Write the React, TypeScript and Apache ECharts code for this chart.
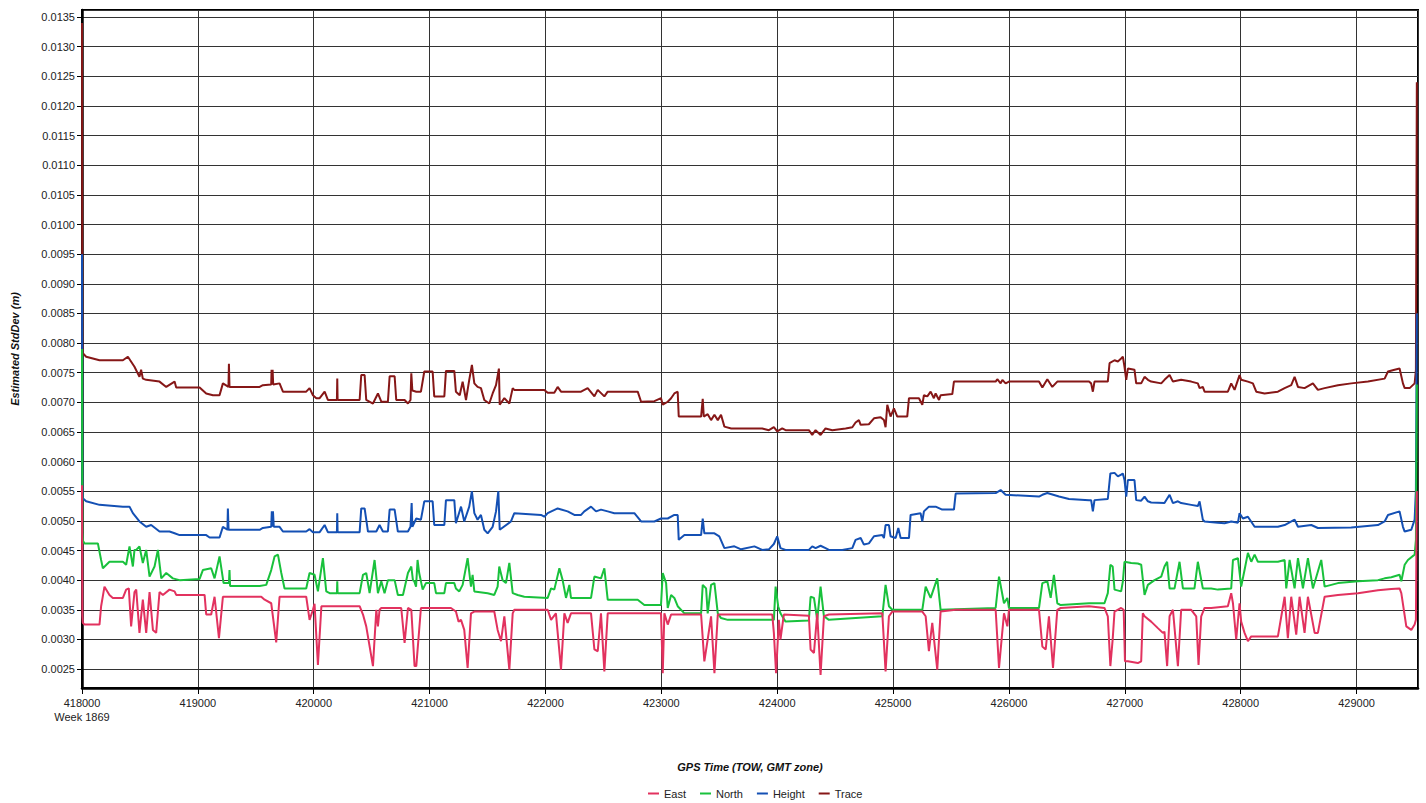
import React, { useEffect, useRef } from "react";
import * as echarts from "echarts";

const SERIES_NAMES = ["East", "North", "Height", "Trace"];
const SERIES_COLORS: Record<string, string> = {
  East: "#e2325f",
  North: "#19c13c",
  Height: "#1450b4",
  Trace: "#861717",
};
const X_TITLE = "GPS Time (TOW, GMT zone)";
const Y_TITLE = "Estimated StdDev (m)";
const WEEK_LABEL = "Week 1869";
const X_MIN = 418000;
const X_MAX = 429530;
const X_STEP = 1000;
const Y_MIN = 0.00218;
const Y_MAX = 0.01362;
const Y_STEP = 0.0005;

type P = [number, number];

const traceData: P[] = [
  [418000, 0.0134], [418003, 0.008], [418007, 0.00783], [418036, 0.00777], [418151, 0.00771], [418353, 0.00771],
  [418396, 0.00777], [418453, 0.0076], [418496, 0.00743], [418510, 0.00755], [418525, 0.0074], [418554, 0.00738],
  [418669, 0.00735], [418727, 0.00726], [418799, 0.00735], [418813, 0.00725], [419015, 0.00725], [419072, 0.00715],
  [419130, 0.00712], [419187, 0.00712], [419216, 0.00732], [419264, 0.00726], [419268, 0.00765], [419273, 0.00726],
  [419533, 0.00726], [419561, 0.00729], [419633, 0.0073], [419636, 0.00755], [419640, 0.0073], [419645, 0.00755],
  [419650, 0.0073], [419705, 0.00732], [419734, 0.00718], [419935, 0.00718], [419964, 0.00724], [419993, 0.00712],
  [420022, 0.00707], [420051, 0.00707], [420094, 0.00718], [420122, 0.00704], [420200, 0.00704], [420203, 0.0074],
  [420206, 0.00704], [420396, 0.00704], [420410, 0.00746], [420439, 0.00746], [420453, 0.00704], [420511, 0.00698],
  [420554, 0.00715], [420583, 0.00701], [420640, 0.00701], [420655, 0.00744], [420698, 0.00744], [420712, 0.00704],
  [420784, 0.00704], [420813, 0.00698], [420835, 0.00704], [420842, 0.00749], [420851, 0.0072], [420885, 0.00718],
  [420925, 0.00718], [420954, 0.00752], [421026, 0.00752], [421040, 0.0071], [421127, 0.0071], [421141, 0.00753],
  [421213, 0.00753], [421227, 0.00718], [421260, 0.00712], [421285, 0.00735], [421314, 0.00704], [421342, 0.00738],
  [421365, 0.00763], [421386, 0.00732], [421414, 0.00726], [421443, 0.00724], [421472, 0.00704], [421515, 0.00698],
  [421544, 0.00715], [421573, 0.00729], [421598, 0.00757], [421605, 0.00696], [421645, 0.00707], [421688, 0.00698],
  [421717, 0.00724], [421731, 0.00721], [421990, 0.00721], [422019, 0.00716], [422076, 0.00716], [422105, 0.00726],
  [422134, 0.00718], [422307, 0.00718], [422364, 0.00724], [422422, 0.0071], [422451, 0.00721], [422508, 0.0071],
  [422537, 0.00718], [422796, 0.00718], [422825, 0.00701], [422940, 0.00702], [422997, 0.00707], [423012, 0.00696],
  [423055, 0.00701], [423084, 0.00707], [423112, 0.00715], [423141, 0.00718], [423150, 0.00676], [423343, 0.00676],
  [423357, 0.00706], [423366, 0.00676], [423400, 0.0068], [423429, 0.0067], [423458, 0.00679], [423487, 0.0067],
  [423515, 0.00679], [423544, 0.00659], [423603, 0.00656], [423803, 0.00656],
  [423870, 0.00656], [423928, 0.00653], [423971, 0.00658], [424000, 0.00651], [424043, 0.00656], [424072, 0.00653],
  [424273, 0.00653], [424302, 0.00645], [424331, 0.00653], [424374, 0.00645], [424417, 0.00656], [424475, 0.00653],
  [424590, 0.00656], [424648, 0.00658], [424676, 0.00666], [424705, 0.0067], [424720, 0.00662], [424791, 0.00663],
  [424835, 0.00673], [424892, 0.00675], [424921, 0.0067], [424935, 0.00658], [424950, 0.00696], [424978, 0.00676],
  [425007, 0.0069], [425036, 0.00676], [425122, 0.00676], [425137, 0.00707], [425223, 0.00707], [425252, 0.00696],
  [425266, 0.00712], [425295, 0.0071], [425324, 0.00718], [425352, 0.00707], [425367, 0.00715], [425396, 0.00704],
  [425410, 0.00712], [425511, 0.00714], [425525, 0.00735], [425885, 0.00735], [425899, 0.00739], [425928, 0.00732],
  [425943, 0.00738], [425971, 0.00732], [426000, 0.00735], [426259, 0.00735], [426288, 0.00725], [426331, 0.00739],
  [426374, 0.00726], [426417, 0.00735], [426691, 0.00735],
  [426709, 0.00732], [426724, 0.00718], [426738, 0.00735], [426853, 0.00735], [426868, 0.00766], [426911, 0.00771],
  [426940, 0.00769], [426968, 0.00774], [426983, 0.00777], [426997, 0.0076], [427012, 0.00738], [427026, 0.00757],
  [427083, 0.00755], [427098, 0.00732], [427141, 0.00732], [427170, 0.00743], [427199, 0.00738], [427227, 0.00735],
  [427314, 0.00732], [427342, 0.00738], [427386, 0.00746], [427415, 0.00735], [427486, 0.00738], [427573, 0.00735],
  [427630, 0.00732], [427645, 0.00724], [427673, 0.00726], [427688, 0.00718], [427889, 0.00718], [427918, 0.00732],
  [427947, 0.00721], [427990, 0.00746], [428004, 0.00738], [428062, 0.00735], [428105, 0.00732], [428134, 0.00718],
  [428206, 0.00715], [428321, 0.00718], [428379, 0.00724], [428436, 0.00729], [428465, 0.00743], [428494, 0.00726],
  [428551, 0.00724], [428623, 0.00732], [428666, 0.00721], [428724, 0.00724], [428839, 0.00729], [428954, 0.00732],
  [429098, 0.00735], [429242, 0.0074], [429271, 0.00752], [429328, 0.00755], [429371, 0.00757], [429400, 0.00732],
  [429415, 0.00724], [429458, 0.00724], [429501, 0.00732], [429512, 0.00755], [429520, 0.0124],
];

const heightData: P[] = [
  [418000, 0.0095], [418003, 0.0056], [418007, 0.00538], [418036, 0.00533], [418151, 0.00527], [418353, 0.00524],
  [418410, 0.00524], [418439, 0.00513], [418496, 0.00499], [418554, 0.0049], [418597, 0.00493], [418669, 0.00482],
  [418755, 0.00482], [418799, 0.00479], [418842, 0.00476], [419072, 0.00476], [419101, 0.00472], [419187, 0.00472],
  [419216, 0.0049], [419255, 0.00485], [419259, 0.00521], [419265, 0.00485], [419533, 0.00485], [419561, 0.00488],
  [419633, 0.0049], [419638, 0.00516], [419643, 0.0049], [419648, 0.00516], [419655, 0.0049], [419705, 0.0049],
  [419734, 0.00482], [419935, 0.00482], [419964, 0.00486], [419993, 0.00481], [420051, 0.00481], [420094, 0.00493],
  [420122, 0.00481], [420200, 0.00481], [420203, 0.00513], [420206, 0.00481], [420396, 0.00481], [420410, 0.00521],
  [420439, 0.00521], [420468, 0.00482], [420540, 0.00482], [420568, 0.00493], [420597, 0.00482], [420640, 0.00482],
  [420655, 0.00519], [420698, 0.00519], [420726, 0.00482], [420813, 0.00482], [420835, 0.0049], [420845, 0.0053],
  [420851, 0.0049], [420885, 0.00504],
  [420925, 0.00502], [420954, 0.00533], [421026, 0.00533], [421040, 0.00493], [421127, 0.00493], [421141, 0.00535],
  [421213, 0.00535], [421227, 0.00496], [421271, 0.00524], [421299, 0.00499], [421342, 0.00524], [421365, 0.0055],
  [421386, 0.00513], [421414, 0.00502], [421443, 0.0051], [421472, 0.00485], [421501, 0.00479], [421544, 0.0049],
  [421573, 0.00516], [421593, 0.0055], [421605, 0.00485], [421702, 0.00499], [421731, 0.00513], [421961, 0.0051],
  [421990, 0.00507], [422019, 0.00513], [422105, 0.00521], [422191, 0.00516], [422249, 0.0051], [422307, 0.0051],
  [422335, 0.00516], [422393, 0.00524], [422436, 0.00516], [422479, 0.00519], [422537, 0.00516], [422594, 0.00513],
  [422767, 0.00513], [422825, 0.00499], [422940, 0.00499], [422997, 0.00504], [423055, 0.00504], [423112, 0.0051],
  [423141, 0.0051], [423150, 0.00468], [423199, 0.00476], [423343, 0.00476], [423357, 0.00504], [423371, 0.00479],
  [423458, 0.00479], [423500, 0.00474], [423544, 0.00454], [423630, 0.00457], [423688, 0.00452], [423803, 0.00457],
  [423870, 0.00451], [423928, 0.00452], [423971, 0.00461], [424000, 0.00474], [424028, 0.00454], [424072, 0.00451],
  [424273, 0.00451], [424302, 0.00457], [424331, 0.00454], [424374, 0.00458], [424417, 0.00454], [424446, 0.00451],
  [424561, 0.00451], [424648, 0.00454], [424676, 0.00468], [424720, 0.00471], [424748, 0.0046], [424791, 0.00462],
  [424835, 0.00474], [424907, 0.00476], [424921, 0.00471], [424935, 0.00493], [424964, 0.00493], [424978, 0.00474],
  [425022, 0.00471], [425045, 0.00488], [425065, 0.00471], [425137, 0.00471], [425151, 0.0051], [425237, 0.00513],
  [425252, 0.00499], [425266, 0.00516], [425309, 0.00524], [425367, 0.00524], [425424, 0.00519], [425525, 0.00519],
  [425540, 0.00546], [425885, 0.00547], [425928, 0.00552], [425971, 0.00544], [426259, 0.00541], [426288, 0.00544],
  [426331, 0.00547], [426432, 0.00541], [426518, 0.00537], [426691, 0.00535],
  [426709, 0.00535], [426724, 0.00516], [426738, 0.00535], [426853, 0.00537], [426875, 0.0058], [426911, 0.00581],
  [426940, 0.00575], [426968, 0.00578], [426983, 0.0058], [426997, 0.00569], [427012, 0.00541], [427026, 0.00569],
  [427083, 0.00569], [427098, 0.00535], [427141, 0.00534], [427170, 0.00541], [427199, 0.00533], [427227, 0.00531],
  [427342, 0.0053], [427386, 0.00544], [427415, 0.0053], [427458, 0.00533], [427486, 0.0053], [427573, 0.00527],
  [427630, 0.00525], [427645, 0.00533], [427673, 0.00502], [427688, 0.00499], [427803, 0.00497], [427861, 0.00496],
  [427918, 0.00499], [427976, 0.00497], [427990, 0.00513], [428019, 0.00504], [428062, 0.00507], [428120, 0.0049],
  [428321, 0.0049], [428379, 0.00493], [428465, 0.00502], [428494, 0.0049], [428609, 0.00493], [428666, 0.00488],
  [428954, 0.00489], [429184, 0.00493], [429242, 0.00499], [429271, 0.0051], [429371, 0.00516], [429400, 0.0049],
  [429415, 0.00482], [429472, 0.00485], [429501, 0.00502], [429512, 0.00553], [429520, 0.0085],
];

const northData: P[] = [
  [418000, 0.0079], [418003, 0.0048], [418007, 0.00467], [418022, 0.00462], [418137, 0.00462], [418165, 0.00434],
  [418180, 0.0042], [418237, 0.00431], [418353, 0.00431], [418381, 0.00426], [418410, 0.00457], [418439, 0.00423],
  [418453, 0.00451], [418468, 0.00451], [418496, 0.00457], [418525, 0.00429], [418554, 0.00451], [418583, 0.00406],
  [418626, 0.00423], [418655, 0.00451], [418684, 0.00403], [418727, 0.00412], [418784, 0.00403], [418842, 0.004],
  [419015, 0.00402], [419043, 0.00417], [419115, 0.0042], [419144, 0.00403], [419187, 0.0044], [419222, 0.00395],
  [419268, 0.00395], [419273, 0.00417], [419278, 0.0039], [419533, 0.0039], [419590, 0.00392], [419633, 0.00417],
  [419662, 0.0044], [419691, 0.00443], [419720, 0.00412], [419748, 0.00386], [419935, 0.00386], [419964, 0.00412],
  [420007, 0.00409], [420036, 0.00381], [420079, 0.00437], [420108, 0.00381], [420137, 0.00378], [420200, 0.00378],
  [420203, 0.00398], [420206, 0.00378], [420396, 0.00378], [420425, 0.00409], [420453, 0.00412], [420482, 0.00378],
  [420525, 0.00434], [420554, 0.00378], [420583, 0.00398], [420611, 0.00378], [420640, 0.004], [420698, 0.004],
  [420726, 0.00375], [420770, 0.00375], [420813, 0.00412], [420842, 0.00423], [420856, 0.004],
  [420868, 0.00398], [420883, 0.00389], [420896, 0.00434], [420910, 0.00412], [420940, 0.00384], [420968, 0.00395],
  [421040, 0.00395], [421055, 0.00378], [421127, 0.00378], [421141, 0.00395], [421213, 0.00395], [421227, 0.00386],
  [421256, 0.00381], [421285, 0.00392], [421328, 0.00437], [421357, 0.00389], [421371, 0.00409], [421386, 0.00381],
  [421501, 0.00378], [421558, 0.00375], [421587, 0.00389], [421601, 0.00423], [421630, 0.004], [421659, 0.00395],
  [421688, 0.00429], [421717, 0.00378], [421760, 0.00375], [421817, 0.00372], [422019, 0.0037], [422048, 0.00386],
  [422076, 0.00384], [422120, 0.0042], [422148, 0.004], [422177, 0.0037], [422206, 0.00392], [422220, 0.0037],
  [422393, 0.0037], [422422, 0.00406], [422479, 0.00403], [422508, 0.0042], [422537, 0.00367], [422796, 0.00367],
  [422853, 0.00358], [422997, 0.00358], [423012, 0.00412], [423041, 0.00395], [423055, 0.00353], [423084, 0.00375],
  [423112, 0.0037], [423141, 0.00356], [423199, 0.00344], [423343, 0.00344], [423357, 0.00392], [423386, 0.00386],
  [423400, 0.00344], [423429, 0.00392], [423458, 0.00395], [423487, 0.00344], [423515, 0.00336], [423573, 0.00333],
  [423803, 0.00333],
  [423971, 0.00333], [423986, 0.00389], [424008, 0.00356], [424028, 0.00344], [424043, 0.00339], [424072, 0.0033],
  [424273, 0.00332], [424288, 0.00372], [424317, 0.0037], [424345, 0.00333], [424374, 0.00389], [424403, 0.00339],
  [424446, 0.00333], [424907, 0.00339], [424935, 0.00392], [424964, 0.00356], [424993, 0.0035], [425252, 0.0035],
  [425281, 0.00389], [425324, 0.0037], [425381, 0.00403], [425410, 0.0035], [425885, 0.00353], [425914, 0.00406],
  [425957, 0.00361], [425986, 0.0037], [426000, 0.00353], [426259, 0.00353], [426288, 0.00395], [426331, 0.00398],
  [426360, 0.0037], [426388, 0.00409], [426417, 0.00361], [426446, 0.00358], [426691, 0.00361],
  [426824, 0.00361], [426853, 0.00378], [426875, 0.00426], [426895, 0.00423], [426911, 0.00384], [426968, 0.00381],
  [426983, 0.00398], [426997, 0.00431], [427055, 0.00429], [427112, 0.00428], [427141, 0.00426], [427170, 0.00375],
  [427199, 0.00392], [427256, 0.004], [427314, 0.00406], [427342, 0.00423], [427365, 0.00431], [427386, 0.00386],
  [427429, 0.00386], [427472, 0.00431], [427501, 0.00386], [427601, 0.00386], [427630, 0.00431], [427673, 0.00386],
  [427745, 0.00386], [427803, 0.00384], [427918, 0.00386], [427933, 0.00434], [427976, 0.00437], [428004, 0.00389],
  [428033, 0.00417], [428062, 0.00446], [428091, 0.00431], [428120, 0.00443], [428148, 0.00431], [428321, 0.00431],
  [428379, 0.00434], [428393, 0.00386], [428422, 0.00434], [428465, 0.00386], [428494, 0.00437], [428537, 0.00386],
  [428580, 0.00437], [428623, 0.00386], [428695, 0.00434], [428724, 0.00389], [428839, 0.00395], [429012, 0.00398],
  [429184, 0.004], [429242, 0.00403], [429300, 0.00405], [429371, 0.00409], [429386, 0.00398], [429415, 0.00426],
  [429443, 0.00434], [429501, 0.00443], [429512, 0.00468], [429520, 0.0073],
];

const eastData: P[] = [
  [418000, 0.0056], [418003, 0.0034], [418007, 0.00328], [418022, 0.00325], [418151, 0.00325], [418165, 0.00356],
  [418194, 0.00389], [418237, 0.00375], [418266, 0.0037], [418353, 0.0037], [418381, 0.00384], [418404, 0.00386],
  [418424, 0.00322], [418453, 0.0038], [418468, 0.00384], [418496, 0.00311], [418525, 0.00367], [418554, 0.00311],
  [418583, 0.0038], [418612, 0.00316], [418640, 0.00311], [418669, 0.0038], [418698, 0.00375], [418755, 0.00384],
  [418799, 0.00381], [418813, 0.00375], [419015, 0.00375], [419058, 0.00375], [419072, 0.00342], [419115, 0.00342],
  [419144, 0.00372], [419182, 0.00302], [419216, 0.00372], [419547, 0.00372], [419576, 0.00367], [419633, 0.00361],
  [419676, 0.00295], [419705, 0.00372], [419935, 0.00372], [419964, 0.00333], [419993, 0.0035], [420007, 0.0036],
  [420036, 0.00257], [420066, 0.00356], [420396, 0.00356], [420425, 0.00342], [420453, 0.00322], [420511, 0.00255],
  [420540, 0.0035], [420554, 0.00322], [420568, 0.0035], [420583, 0.00353], [420755, 0.00353], [420784, 0.00294],
  [420813, 0.00353], [420842, 0.0035], [420870, 0.00255],
  [420885, 0.00255], [420925, 0.00353], [421184, 0.00353], [421227, 0.00347], [421250, 0.0033], [421271, 0.00333],
  [421299, 0.00316], [421328, 0.00252], [421357, 0.00344], [421386, 0.00347], [421558, 0.00347], [421587, 0.00316],
  [421616, 0.00297], [421645, 0.00339], [421688, 0.00249], [421717, 0.00344], [421731, 0.0035], [422019, 0.0035],
  [422048, 0.00333], [422090, 0.00344], [422134, 0.00249], [422163, 0.00344], [422191, 0.00328], [422220, 0.00344],
  [422393, 0.00344], [422422, 0.00283], [422451, 0.0028], [422479, 0.00344], [422508, 0.00246], [422537, 0.00344],
  [422997, 0.00344], [423012, 0.00243], [423026, 0.00344], [423055, 0.00325], [423084, 0.00342], [423343, 0.00342],
  [423371, 0.00263], [423400, 0.003], [423429, 0.00339], [423458, 0.00243], [423487, 0.00342], [423803, 0.00342],
  [423957, 0.00342], [423971, 0.00311], [423990, 0.00243], [424014, 0.00333], [424028, 0.003], [424057, 0.00342],
  [424273, 0.0034], [424288, 0.00283], [424317, 0.00277], [424345, 0.00344], [424374, 0.0024], [424403, 0.00339],
  [424446, 0.00342], [424907, 0.00344], [424935, 0.00246], [424964, 0.00339], [424993, 0.00347], [425252, 0.00347],
  [425281, 0.00339], [425309, 0.0028], [425338, 0.00328], [425381, 0.00249], [425410, 0.00347], [425540, 0.0035],
  [425885, 0.0035], [425914, 0.00252], [425957, 0.00344], [425986, 0.00322], [426000, 0.0035], [426259, 0.0035],
  [426288, 0.00288], [426317, 0.00283], [426345, 0.00339], [426380, 0.00252], [426417, 0.0035], [426446, 0.00353],
  [426691, 0.00356],
  [426824, 0.00353], [426853, 0.00339], [426875, 0.00255], [426895, 0.003], [426911, 0.00347], [426968, 0.00353],
  [426990, 0.0035], [427001, 0.00263], [427026, 0.00263], [427112, 0.0026], [427141, 0.00263], [427155, 0.00344],
  [427170, 0.00339], [427227, 0.0033], [427285, 0.00319], [427328, 0.00311], [427342, 0.00313], [427365, 0.00255],
  [427386, 0.00339], [427415, 0.0035], [427458, 0.00255], [427486, 0.0035], [427573, 0.0035], [427616, 0.00339],
  [427636, 0.00257], [427659, 0.00339], [427688, 0.00353], [427745, 0.00353], [427889, 0.00356], [427918, 0.00378],
  [427933, 0.00361], [427961, 0.003], [427990, 0.00361], [428004, 0.0033], [428033, 0.00311], [428062, 0.00297],
  [428091, 0.00305], [428321, 0.00305], [428379, 0.00372], [428407, 0.00302], [428436, 0.00372], [428479, 0.00308],
  [428508, 0.00372], [428551, 0.00311], [428580, 0.00372], [428638, 0.00311], [428666, 0.00311], [428724, 0.00372],
  [428839, 0.00375], [429012, 0.00378], [429184, 0.00383], [429300, 0.00385], [429371, 0.00386], [429386, 0.00378],
  [429429, 0.00322], [429472, 0.00316], [429501, 0.00325], [429512, 0.00333], [429520, 0.0055],
];

const DATA_BY_NAME: Record<string, P[]> = {
  East: eastData,
  North: northData,
  Height: heightData,
  Trace: traceData,
};

// drawing order: Trace at the bottom, East on top
const DRAW_ORDER = ["Trace", "Height", "North", "East"];

const FONT = "'Liberation Sans', Arial, sans-serif";

export default function App() {
  const ref = useRef<HTMLDivElement>(null);

  useEffect(() => {
    if (!ref.current) return;
    const chart = echarts.init(ref.current, undefined, { renderer: "svg" });
    const gridLine = { show: true, lineStyle: { color: "#333", width: 1 } };
    chart.setOption({
      animation: false,
      backgroundColor: "#ffffff",
      textStyle: { fontFamily: FONT },
      grid: {
        left: 82,
        right: 8,
        top: 10,
        bottom: 115,
        show: true,
        borderColor: "#000",
        borderWidth: 2,
        backgroundColor: "transparent",
        containLabel: false,
        outerBoundsMode: "none",
      },
      legend: {
        data: SERIES_NAMES,
        top: 783,
        left: 643,
        icon: "rect",
        itemWidth: 11,
        itemHeight: 2,
        itemGap: 14,
        textStyle: { fontSize: 11, color: "#222", fontFamily: FONT },
      },
      xAxis: {
        type: "value",
        min: X_MIN,
        max: X_MAX,
        minInterval: X_STEP,
        maxInterval: X_STEP,
        splitNumber: 12,
        name: X_TITLE,
        nameLocation: "middle",
        nameGap: 73,
        nameTextStyle: { fontSize: 11, fontWeight: "bold", fontStyle: "italic", color: "#111", fontFamily: FONT },
        axisLine: { show: true, onZero: false, lineStyle: { color: "#000", width: 2.5 } },
        axisTick: { show: true, length: 6, lineStyle: { color: "#000" } },
        axisLabel: {
          fontSize: 11,
          color: "#222",
          margin: 8,
          lineHeight: 14,
          showMinLabel: true,
          showMaxLabel: false,
          formatter: (v: number) =>
            Math.abs(v % X_STEP) > 1e-6 ? "" : v === X_MIN ? `${v}\n${WEEK_LABEL}` : String(v),
        },
        splitLine: gridLine,
      },
      yAxis: {
        type: "value",
        min: Y_MIN,
        max: Y_MAX,
        minInterval: Y_STEP,
        maxInterval: Y_STEP,
        splitNumber: 23,
        name: Y_TITLE,
        nameLocation: "middle",
        nameGap: 62,
        nameTextStyle: { fontSize: 11, fontWeight: "bold", fontStyle: "italic", color: "#111", fontFamily: FONT },
        axisLine: { show: true, onZero: false, lineStyle: { color: "#000", width: 2.5 } },
        axisTick: { show: true, length: 5, lineStyle: { color: "#000" } },
        axisLabel: {
          fontSize: 11,
          color: "#222",
          margin: 7,
          showMinLabel: false,
          showMaxLabel: false,
          formatter: (v: number) => v.toFixed(4),
        },
        splitLine: gridLine,
      },
      series: DRAW_ORDER.map((name) => ({
        name,
        type: "line",
        data: DATA_BY_NAME[name],
        symbol: "none",
        showSymbol: false,
        color: SERIES_COLORS[name],
        lineStyle: { color: SERIES_COLORS[name], width: 2 },
        itemStyle: { color: SERIES_COLORS[name] },
        emphasis: { disabled: true },
      })),
    });
    return () => chart.dispose();
  }, []);

  return (
    <div
      ref={ref}
      style={{ position: "absolute", left: 0, top: 0, width: 1426, height: 803, background: "#fff" }}
    />
  );
}
